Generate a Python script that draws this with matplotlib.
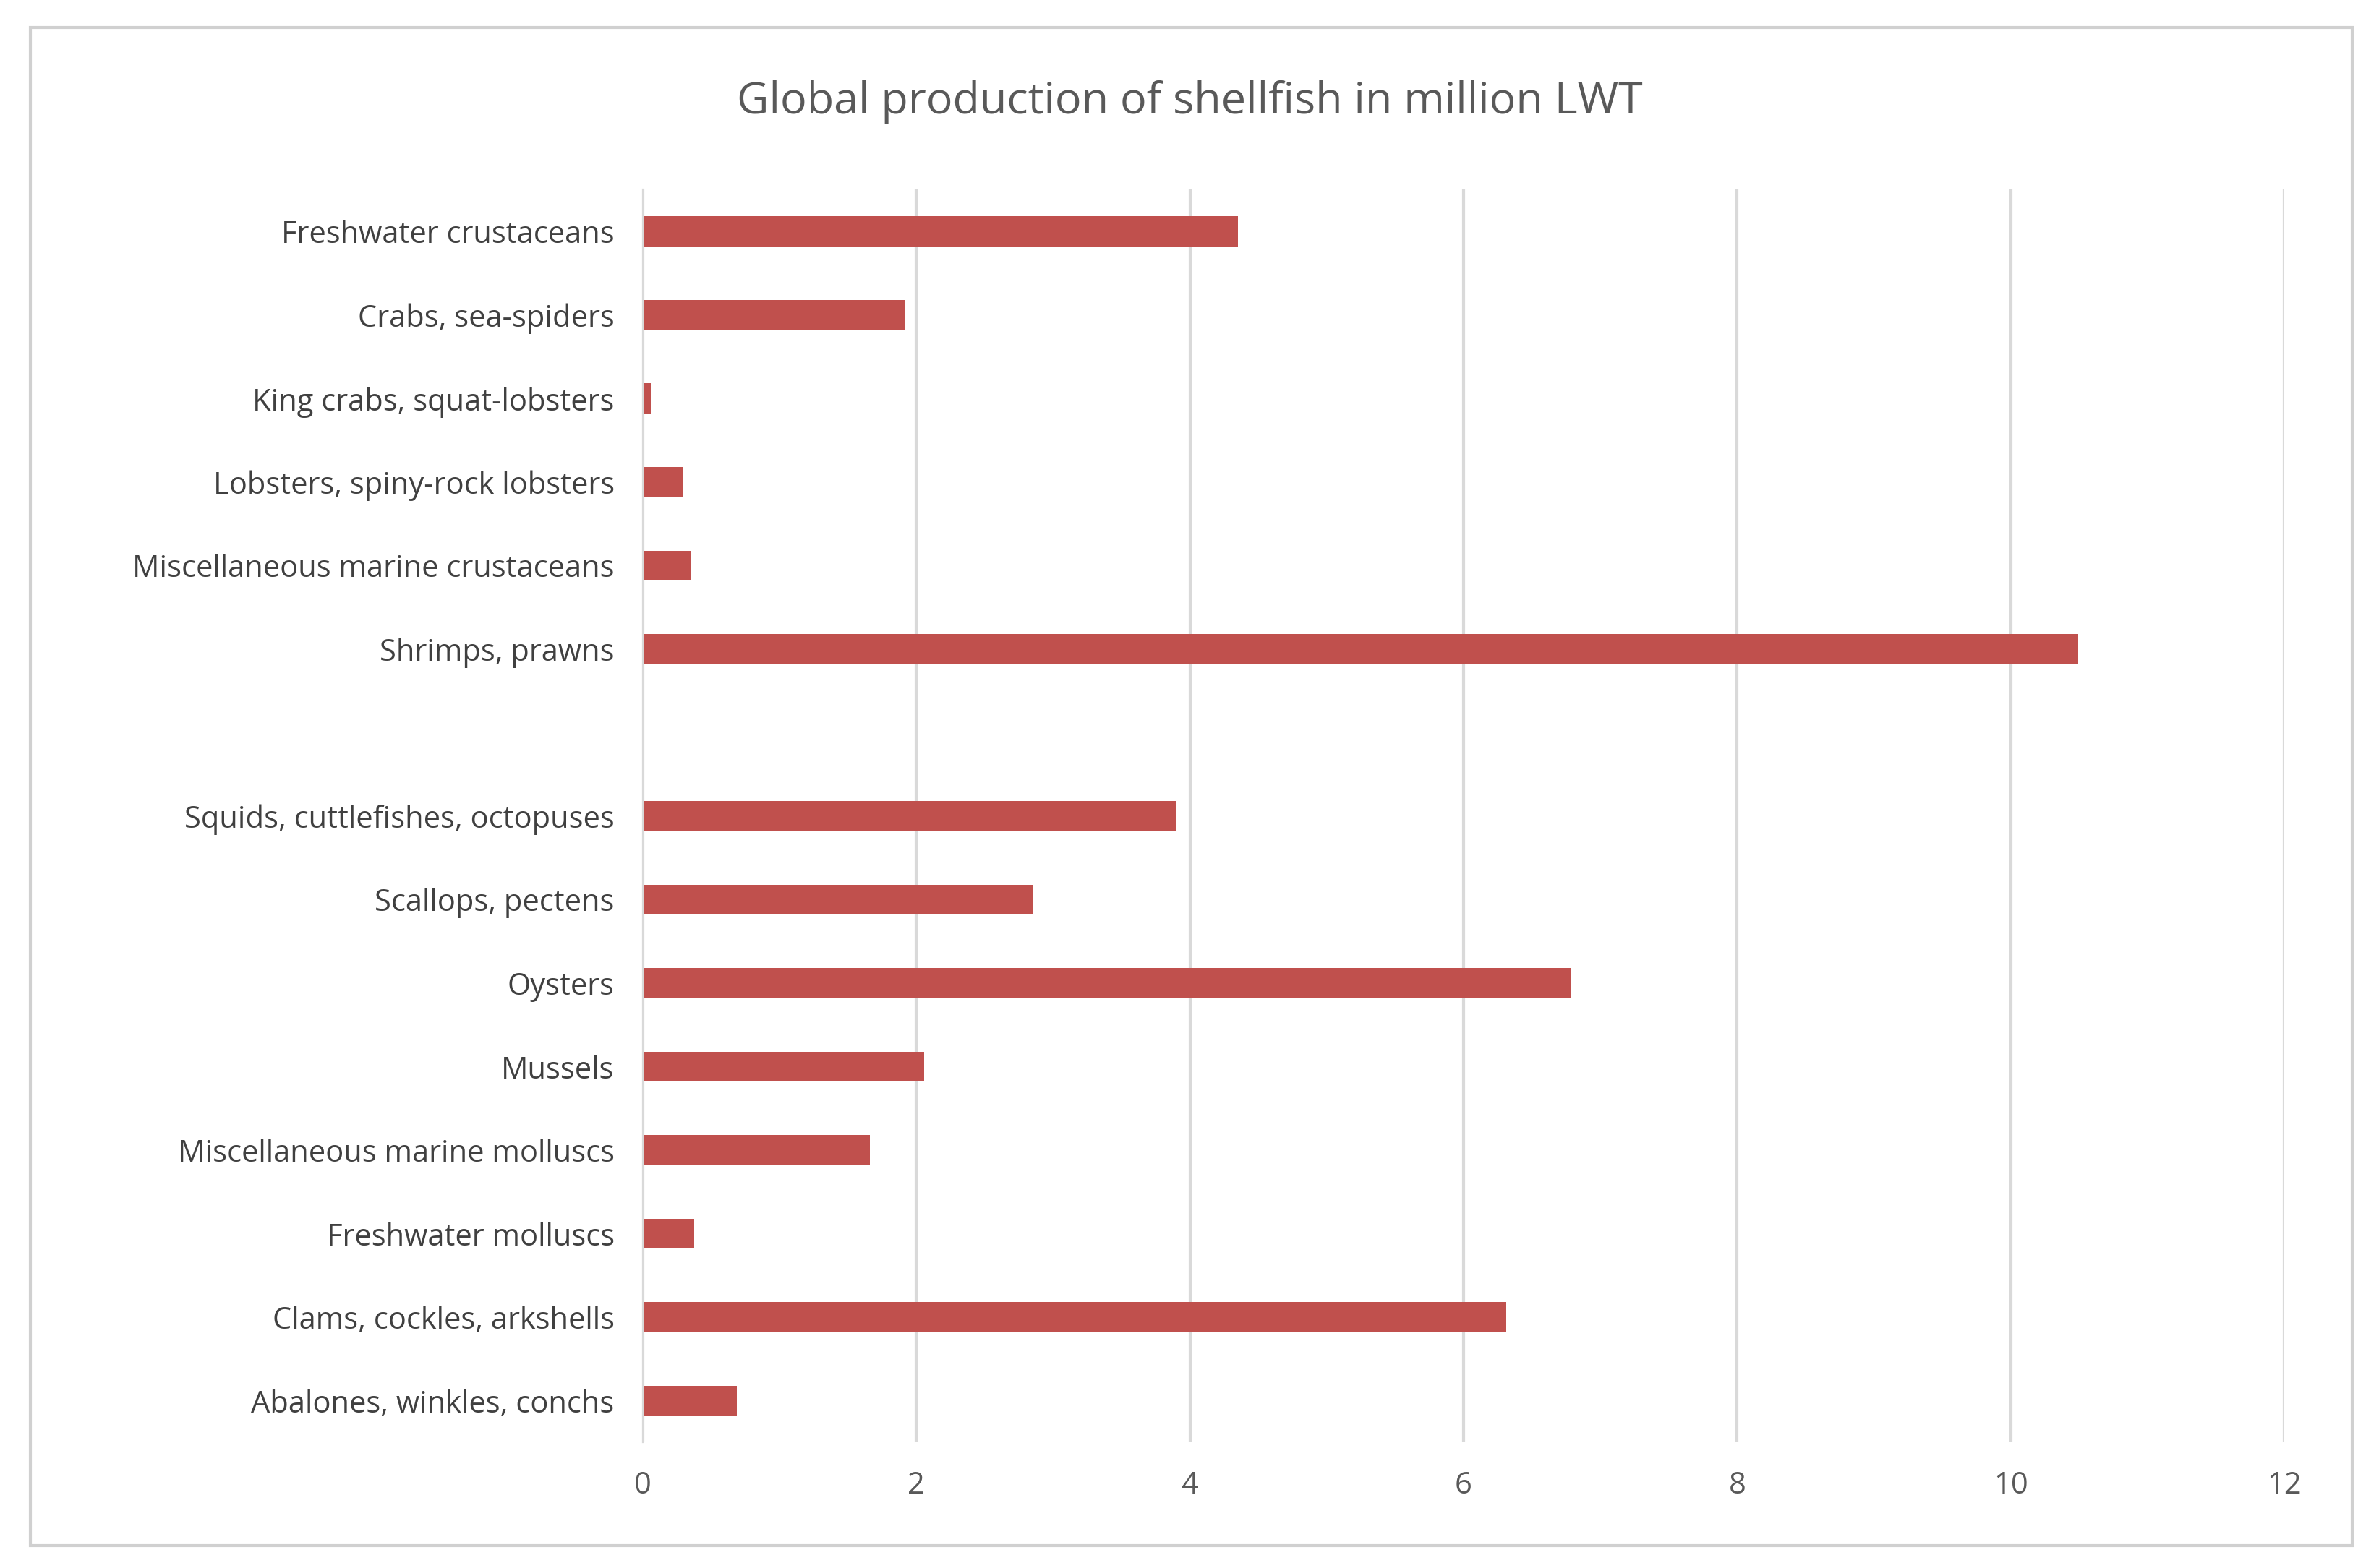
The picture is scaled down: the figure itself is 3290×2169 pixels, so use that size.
import matplotlib
matplotlib.use("Agg")
import matplotlib.pyplot as plt
from matplotlib.patches import Rectangle

categories = ["Freshwater crustaceans", "Crabs, sea-spiders", "King crabs, squat-lobsters",
              "Lobsters, spiny-rock lobsters", "Miscellaneous marine crustaceans", "Shrimps, prawns",
              "", "Squids, cuttlefishes, octopuses", "Scallops, pectens", "Oysters", "Mussels",
              "Miscellaneous marine molluscs", "Freshwater molluscs", "Clams, cockles, arkshells",
              "Abalones, winkles, conchs"]
values = [4.35, 1.92, 0.06, 0.30, 0.35, 10.49, 0, 3.90, 2.85, 6.79, 2.06, 1.66, 0.38, 6.31, 0.69]
xticks = [0, 2, 4, 6, 8, 10, 12]

plt.rcParams['font.family'] = ['Open Sans', 'DejaVu Sans']
fig = plt.figure(figsize=(16.455, 10.845), dpi=200)
fig.patches.append(Rectangle((20/1568, 1-1018/1033), 1530/1568, 1000/1033, transform=fig.transFigure,
                             fill=False, edgecolor="#d0d0d0", linewidth=1.5))
ax = fig.add_axes([0.270, 0.080, 0.690, 0.799])
y = list(range(len(categories)))
ax.barh(y, values, height=0.36, color="#C0504D")
ax.set_ylim(len(categories) - 0.5, -0.5)
ax.set_yticks(y)
ax.set_yticklabels(categories, fontsize=15, color="#404040")
ax.set_xlim(0, 12)
ax.set_xticks(xticks)
ax.set_xticklabels([str(t) for t in xticks], fontsize=15, color="#595959")
ax.xaxis.grid(True, color="#d9d9d9", linewidth=1.5)
ax.set_axisbelow(True)
for s in ["top", "right", "bottom"]:
    ax.spines[s].set_visible(False)
ax.spines["left"].set_color("#d9d9d9")
ax.tick_params(length=0, pad=14)
fig.text(0.5, 0.935, "Global production of shellfish in million LWT", ha="center", va="center",
         fontsize=22, color="#595959")
fig.savefig("out.png", dpi=200)
